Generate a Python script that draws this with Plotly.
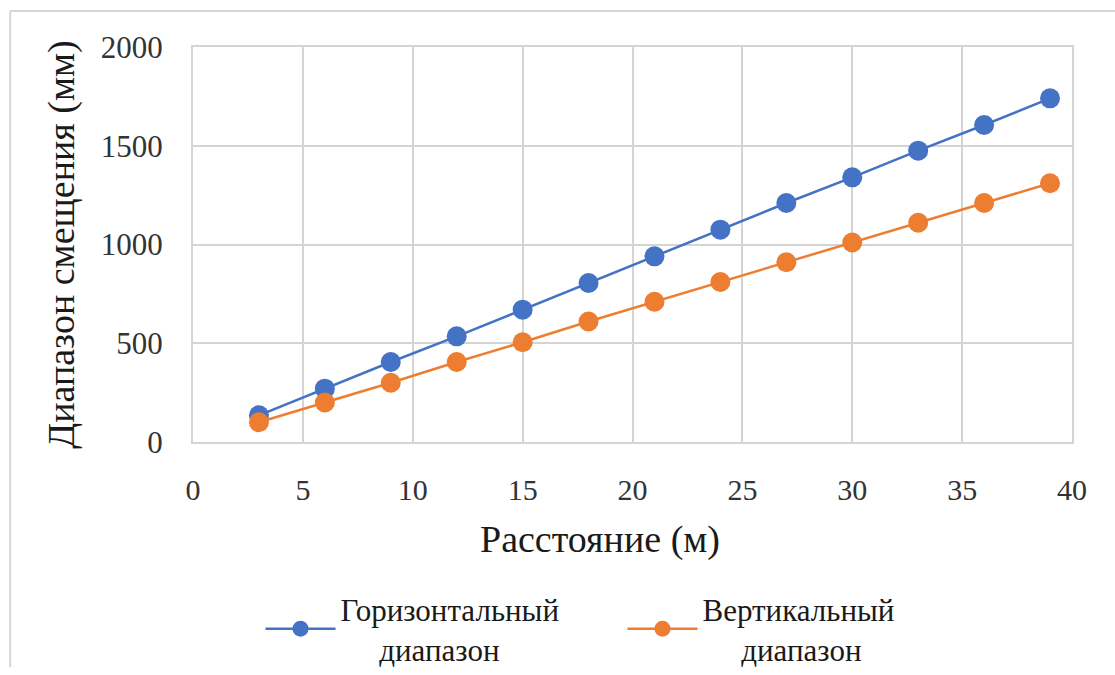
import plotly.graph_objects as go

# Distance from the source (m)
distance_m = [3, 6, 9, 12, 15, 18, 21, 24, 27, 30, 33, 36, 39]
# Displacement range (mm)
horizontal_mm = [135, 270, 405, 535, 670, 805, 940, 1075, 1210, 1340, 1475, 1605, 1740]
vertical_mm = [100, 200, 300, 405, 505, 610, 710, 810, 910, 1010, 1110, 1210, 1310]

NB = "\u00a0"
series_names = ["Горизонтальный<br>" + NB * 5 + "диапазон",
                "Вертикальный<br>" + NB * 5 + "диапазон"]
x_title = "Расстояние (м)"
y_title = "Диапазон смещения (мм)"

BLUE = "#4472C4"
ORANGE = "#ED7D31"
GRID = "#d4d4d4"
FONT = "Liberation Serif"

fig = go.Figure()
for vals, name, color in [(horizontal_mm, series_names[0], BLUE),
                          (vertical_mm, series_names[1], ORANGE)]:
    fig.add_trace(go.Scatter(
        x=distance_m, y=vals, name=name, mode="lines+markers",
        line=dict(color=color, width=2.5),
        marker=dict(color=color, size=20),
    ))

fig.update_layout(
    width=1115, height=675,
    margin=dict(l=193, r=43, t=47, b=233, autoexpand=False),
    paper_bgcolor="white", plot_bgcolor="white",
    showlegend=True,
    legend=dict(
        orientation="h", x=0.0768, xanchor="left", y=-0.354, yanchor="top",
        font=dict(family=FONT, size=31, color="#1a1a1a"),
        itemwidth=70, entrywidth=277, entrywidthmode="pixels",
        bgcolor="rgba(0,0,0,0)",
    ),
    xaxis=dict(
        range=[0, 40], dtick=5, tick0=0,
        showgrid=True, gridcolor=GRID, gridwidth=2,
        showline=True, linecolor=GRID, linewidth=2, mirror=True,
        zeroline=False, ticks="", ticklabelstandoff=20,
        tickfont=dict(family=FONT, size=30, color="#333333"),
    ),
    yaxis=dict(
        range=[0, 2000], dtick=500, tick0=0,
        showgrid=True, gridcolor=GRID, gridwidth=2,
        showline=True, linecolor=GRID, linewidth=2, mirror=True,
        zeroline=False, ticks="", ticklabelstandoff=22,
        tickfont=dict(family=FONT, size=31, color="#333333"),
        title=dict(text=y_title, font=dict(family=FONT, size=38, color="#1a1a1a"), standoff=14),
    ),
)

# X-axis title, centred on the whole chart rather than the plot area
fig.add_annotation(text=x_title, xref="paper", yref="paper", x=0.463, y=-0.248,
                   xanchor="center", yanchor="middle", showarrow=False,
                   font=dict(family=FONT, size=38, color="#1a1a1a"))

# Outer chart frame (top and left edges)
fig.add_shape(type="line", xref="paper", yref="paper",
              x0=-0.208, x1=1.05, y0=1.091, y1=1.091,
              line=dict(color="#d6d6d6", width=2))
fig.add_shape(type="line", xref="paper", yref="paper",
              x0=-0.208, x1=-0.208, y0=1.091, y1=-0.57,
              line=dict(color="#d6d6d6", width=2))

fig.write_html("out.html")
